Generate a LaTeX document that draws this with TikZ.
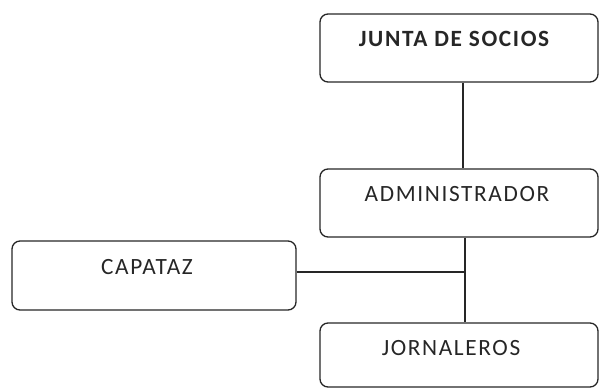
\documentclass[tikz,border=0pt]{standalone}
\usepackage{fontspec}
\setmainfont{Carlito}[LetterSpace=7]
\begin{document}
\begin{tikzpicture}[x=1pt,y=1pt,
  box/.style={draw=black!85, line width=1.3pt, rounded corners=8pt, minimum width=278pt, minimum height=68pt, inner sep=0pt},
  lbl/.style={font=\fontsize{23.3}{26}\selectfont, text=black!85, inner sep=0pt},
  conn/.style={draw=black!85, line width=1.3pt}]
\useasboundingbox (0,0) rectangle (599,388);
\node[box] (junta) at (459,340) {};
\node[box] (admin) at (459,185) {};
\node[box, minimum width=284pt, minimum height=69pt] (capataz) at (154,112.5) {};
\node[box, minimum height=64pt] (jorn) at (459,33) {};
\node[lbl, font=\bfseries\fontsize{23.3}{26}\selectfont, anchor=base] (tj) at (454,341) {JUNTA DE SOCIOS};
\node[lbl, anchor=base] (ta) at (457,186) {ADMINISTRADOR};
\node[lbl, anchor=base] (tc) at (147,113) {CAPATAZ};
\node[lbl, anchor=base] (tjo) at (451,33) {JORNALEROS};
\coordinate (m) at (465,116);
\draw[conn] (junta.south -| 463,0) -- (admin.north -| 463,0);
\draw[conn] (admin.south -| m) -- (jorn.north -| m);
\draw[conn] (capataz.east |- m) -- (m);
\end{tikzpicture}
\end{document}
